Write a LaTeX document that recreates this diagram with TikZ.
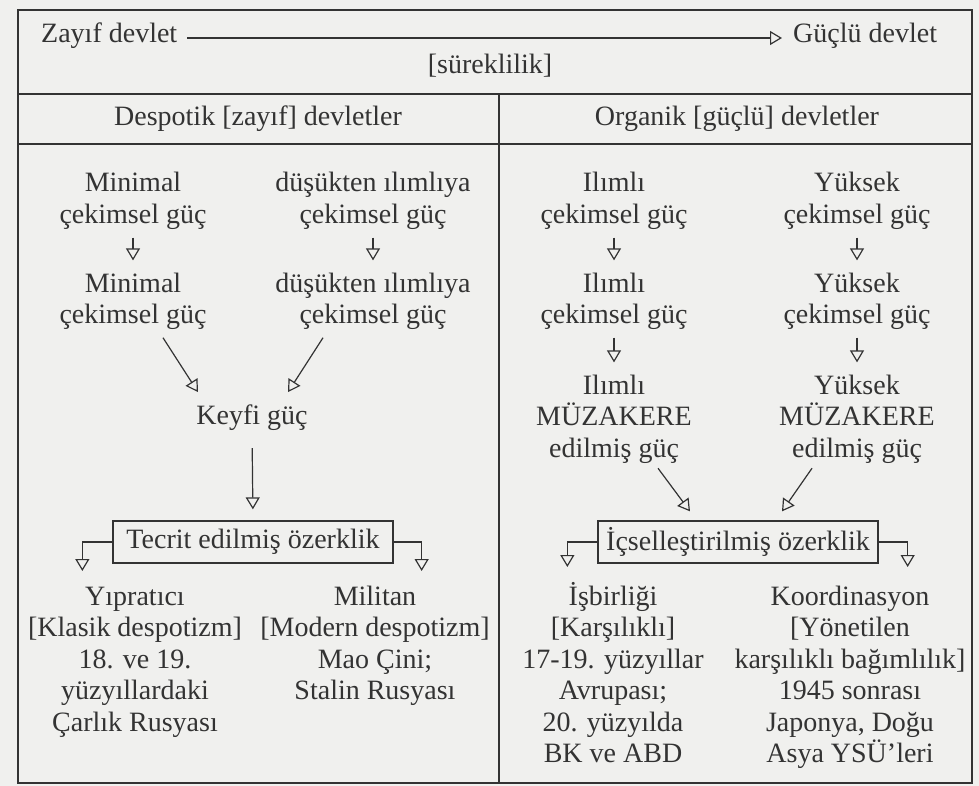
\documentclass[tikz,border=0pt]{standalone}
\usepackage{fontspec}
\setmainfont{Liberation Serif}
\usetikzlibrary{arrows.meta}
\definecolor{ink}{HTML}{333333}
\definecolor{paper}{HTML}{F0F0EE}

\begin{document}
\begin{tikzpicture}
        [x=1pt, y=-1pt,
        txt/.style={inner sep=0pt, align=center, anchor=base, text=ink, font=\fontsize{28}{31.5}\selectfont},
        box/.style={draw=ink, line width=1.3pt, inner sep=0pt, minimum width=280pt, minimum height=42pt, text=ink, font=\fontsize{28}{31.5}\selectfont},
        arr/.style={draw=ink, line width=1.2pt, -{Triangle[open, length=12pt, width=14pt]}},
        smallArr/.style={arr, shorten <=8pt, shorten >=12pt}]
        \useasboundingbox[fill=paper] (0,0) rectangle (979,786);

        % frame
        \draw[ink, line width=1.8pt] (18,10) rectangle (972,783);
        \draw[ink, line width=1.4pt] (18,94) -- (972,94);
        \draw[ink, line width=1.4pt] (18,144) -- (972,144);
        \draw[ink, line width=1.4pt] (499,94) -- (499,783);

        \node[txt, anchor=base west] (zayif) at (41,43) {Zayıf devlet};
        \node[txt, anchor=base west] (guclu) at (793,43) {Güçlü devlet};
        \node[txt] (surek) at (490,74) {[süreklilik]};
        \node[txt] (hdrL) at (258,126) {Despotik [zayıf] devletler};
        \node[txt] (hdrR) at (737,126) {Organik [güçlü] devletler};

        % base = last line
        \node[txt] (minA) at (133,223.5) {Minimal\\çekimsel güç};
        \node[txt] (dusA) at (373,223.5) {düşükten ılımlıya\\çekimsel güç};
        \node[txt] (minB) at (133,323.5) {Minimal\\çekimsel güç};
        \node[txt] (dusB) at (373,323.5) {düşükten ılımlıya\\çekimsel güç};
        \node[txt] (keyfi) at (252,424) {Keyfi güç};
        \node[box] (tecrit) at (253,542) {Tecrit edilmiş özerklik};
        \node[txt] (yipr) at (135,731) {Yıpratıcı\\{[}Klasik despotizm]\\18. ve 19.\\yüzyıllardaki\\Çarlık Rusyası};
        \node[txt] (milit) at (375,699.5) {Militan\\{[}Modern despotizm]\\Mao Çini;\\Stalin Rusyası};

        \node[txt] (ilmA) at (614,223.5) {Ilımlı\\çekimsel güç};
        \node[txt] (yukA) at (857,223.5) {Yüksek\\çekimsel güç};
        \node[txt] (ilmB) at (614,323.5) {Ilımlı\\çekimsel güç};
        \node[txt] (yukB) at (857,323.5) {Yüksek\\çekimsel güç};
        \node[txt] (ilmC) at (614,457) {Ilımlı\\MÜZAKERE\\edilmiş güç};
        \node[txt] (yukC) at (857,457) {Yüksek\\MÜZAKERE\\edilmiş güç};
        \node[box] (icsel) at (738,542) {İçselleştirilmiş özerklik};
        \node[txt] (isbir) at (613,762.5) {İşbirliği\\{[}Karşılıklı]\\17-19. yüzyıllar\\Avrupası;\\20. yüzyılda\\BK ve ABD};
        \node[txt] (koord) at (850,762.5) {Koordinasyon\\{[}Yönetilen\\karşılıklı bağımlılık]\\1945 sonrası\\Japonya, Doğu\\Asya YSÜ’leri};

        \draw[arr, shorten <=10pt, shorten >=11pt] ([yshift=5pt]zayif.base east) -- ([yshift=5pt]guclu.base west);

        \draw[smallArr] (minA) -- (minB);
        \draw[smallArr] (dusA) -- (dusB);
        \draw[arr] ([xshift=30pt,yshift=-8pt]minB.south) -- ([xshift=-54pt,yshift=12pt]keyfi.north);
        \draw[arr] ([xshift=-50pt,yshift=-8pt]dusB.south) -- ([xshift=36pt,yshift=12pt]keyfi.north);
        \draw[arr, shorten <=18pt, shorten >=11pt] (keyfi.south) -- (tecrit.north);
        \draw[arr] (tecrit.west) -- ++(-30,0) -- ++(0,29);
        \draw[arr] (tecrit.east) -- ++(28,0) -- ++(0,29);

        \draw[smallArr] (ilmA) -- (ilmB);
        \draw[smallArr] (yukA) -- (yukB);
        \draw[smallArr] (ilmB) -- (ilmC);
        \draw[smallArr] (yukB) -- (yukC);
        \draw[arr] ([xshift=44pt,yshift=-5pt]ilmC.south) -- ([xshift=-48pt,yshift=9pt]icsel.north);
        \draw[arr] ([xshift=-45pt,yshift=-5pt]yukC.south) -- ([xshift=44pt,yshift=9pt]icsel.north);
        \draw[arr] (icsel.west) -- ++(-30,0) -- ++(0,25);
        \draw[arr] (icsel.east) -- ++(29,0) -- ++(0,25);

\end{tikzpicture}
\end{document}
